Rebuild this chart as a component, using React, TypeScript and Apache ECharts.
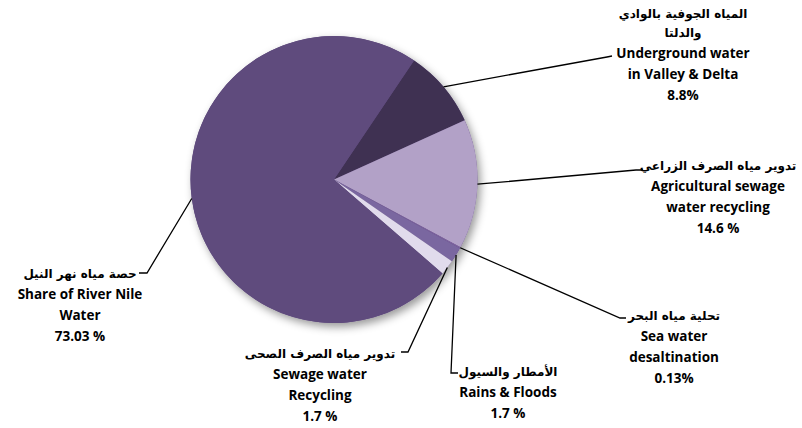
import React, { useEffect, useRef } from "react";
import * as echarts from "echarts";

// ---- data ----
const categories = ["Underground", "Agricultural", "Sea water", "Rains", "Sewage", "Nile"];
const values = [8.8, 14.6, 0.13, 1.7, 1.7, 73.03];
const arabicLines: string[][] = [
  ["المياه الجوفية بالوادي", "والدلتا"],
  ["تدوير مياه الصرف الزراعي"],
  ["تحلية مياه البحر"],
  ["الأمطار والسيول"],
  ["تدوير مياه الصرف الصحى"],
  ["حصة مياه نهر النيل"],
];
const englishLines: string[][] = [
  ["Underground water", "in Valley & Delta"],
  ["Agricultural sewage", "water recycling"],
  ["Sea water", "desaltination"],
  ["Rains & Floods"],
  ["Sewage water", "Recycling"],
  ["Share of River Nile", "Water"],
];
const percentLabels = ["8.8%", "14.6 %", "0.13%", "1.7 %", "1.7 %", "73.03 %"];

// ---- styling / layout ----
const colors = ["#3f3152", "#b2a1c7", "#8064a2", "#7a67a0", "#e1dbec", "#5f4b7d"];
const CX = 334;
const CY = 179.5;
const R = 143.5;
const START_ANGLE = 56.1;
const labelPos: [number, number][] = [
  [683, 4],
  [718, 156],
  [674, 306],
  [508, 362],
  [320, 344],
  [80, 264],
];
const leaderEnds: [number, number][][] = [
  [[607, 57], [612, 56]],
  [[636, 170], [643, 170]],
  [[620, 318], [626, 318]],
  [[451, 373], [458, 373]],
  [[408, 352], [401, 352]],
  [[147, 273], [139, 273]],
];

function buildLabel(i: number): string {
  const ar = arabicLines[i].map((t) => `{ar|${t}}`);
  const en = englishLines[i].map((t) => `{en|${t}}`);
  return [...ar, ...en, `{en|${percentLabels[i]}}`].join("\n");
}

export default function App() {
  const ref = useRef<HTMLDivElement>(null);
  useEffect(() => {
    if (!ref.current) return;
    const chart = echarts.init(ref.current, undefined, { renderer: "svg" });
    const total = values.reduce((a, b) => a + b, 0);
    let cum = 0;
    const leaders = values.map((v, i) => {
      const mid = START_ANGLE - ((cum + v / 2) / total) * 360;
      cum += v;
      const rad = (mid * Math.PI) / 180;
      const ax = CX + R * Math.cos(rad);
      const ay = CY - R * Math.sin(rad);
      return {
        type: "polyline",
        silent: true,
        z: 10,
        shape: { points: [[ax, ay], ...leaderEnds[i]] },
        style: { stroke: "#000", lineWidth: 1.3, fill: "none" },
      };
    });
    chart.setOption({
      animation: false,
      backgroundColor: "#ffffff",
      graphic: leaders,
      series: [
        {
          type: "pie",
          silent: true,
          center: [CX, CY],
          radius: R,
          z: 1,
          label: { show: false },
          labelLine: { show: false },
          data: [{ value: 1, itemStyle: { color: "#5f4b7d" } }],
          itemStyle: {
            shadowBlur: 8,
            shadowOffsetX: 3,
            shadowOffsetY: 4,
            shadowColor: "rgba(0,0,0,0.4)",
          },
        },
        {
          type: "pie",
          center: [CX, CY],
          radius: R,
          z: 2,
          startAngle: START_ANGLE,
          clockwise: true,
          avoidLabelOverlap: false,
          minShowLabelAngle: 0,
          data: categories.map((name, i) => ({
            name,
            value: values[i],
            itemStyle: { color: colors[i] },
          })),
          itemStyle: { borderWidth: 0 },
          labelLine: { show: false },
          label: {
            show: true,
            position: "outside",
            formatter: (p: any) => buildLabel(p.dataIndex),
            align: "center",
            rich: {
              ar: {
                fontFamily: "DejaVu Sans",
                fontWeight: "bold",
                fontSize: 12,
                lineHeight: 19,
                color: "#000",
                align: "center",
              },
              en: {
                fontFamily: "Open Sans",
                fontWeight: "bold",
                fontSize: 13.5,
                lineHeight: 21,
                color: "#000",
                align: "center",
              },
            },
          },
          labelLayout: (p: any) => ({
            x: labelPos[p.dataIndex][0],
            y: labelPos[p.dataIndex][1],
            align: "center",
            verticalAlign: "top",
          }),
        },
      ],
    });
    return () => chart.dispose();
  }, []);
  return (
    <div
      ref={ref}
      style={{ position: "fixed", left: 0, top: 0, width: 802, height: 428 }}
    />
  );
}
